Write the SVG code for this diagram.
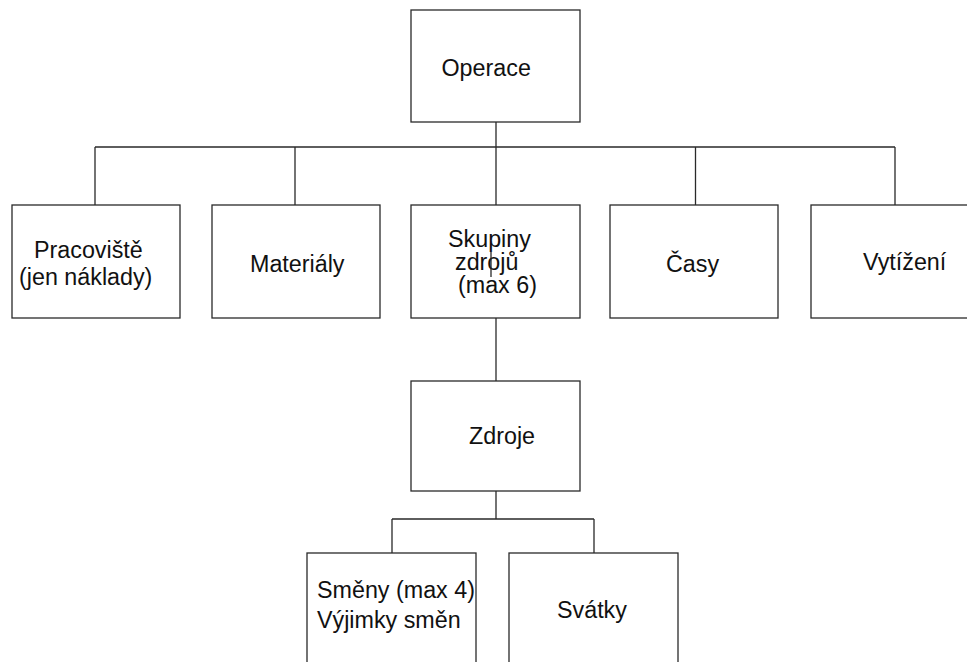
<svg xmlns="http://www.w3.org/2000/svg" width="967" height="662" viewBox="0 0 967 662">
<style>
.box{fill:#fff;stroke:#2a2a2a;stroke-width:1.3}
.ln{fill:none;stroke:#2a2a2a;stroke-width:1.3}
text{font-family:"Liberation Sans",Arial,sans-serif;font-size:23.3px;fill:#111}
</style>
<rect width="967" height="662" fill="#fff"/>
<g id="connectors">
<path class="ln" d="M496 122V147M95 147H895M95 147V205M295 147V205M496 147V205M695.5 147V205M895 147V205"/>
<path class="ln" d="M496 318V381"/>
<path class="ln" d="M496 491V519M392 519H594M392 519V553M594 519V553"/>
</g>
<g id="operace"><rect class="box" x="411" y="10" width="169" height="112"/><text x="441.5" y="76">Operace</text></g>
<g id="pracoviste"><rect class="box" x="12" y="205" width="168" height="113"/><text x="34" y="258">Pracoviště</text><text x="19" y="285">(jen náklady)</text></g>
<g id="materialy"><rect class="box" x="212" y="205" width="168" height="113"/><text x="250" y="272">Materiály</text></g>
<g id="skupiny"><rect class="box" x="411" y="205" width="169" height="113"/><text x="448" y="247">Skupiny</text><text x="455" y="270">zdrojů</text><text x="458" y="293">(max 6)</text><path class="ln" d="M491 252V277" stroke-width="1"/></g>
<g id="casy"><rect class="box" x="610" y="205" width="168" height="113"/><text x="666" y="272">Časy</text></g>
<g id="vytizeni"><rect class="box" x="811" y="205" width="170" height="113"/><text x="863" y="270">Vytížení</text></g>
<g id="zdroje"><rect class="box" x="411" y="381" width="169" height="110"/><text x="469" y="444">Zdroje</text></g>
<g id="smeny"><rect class="box" x="307" y="553" width="169" height="120"/><text x="317" y="598">Směny (max 4)</text><text x="317" y="628">Výjimky směn</text></g>
<g id="svatky"><rect class="box" x="509" y="553" width="169" height="120"/><text x="557" y="618">Svátky</text></g>
</svg>
